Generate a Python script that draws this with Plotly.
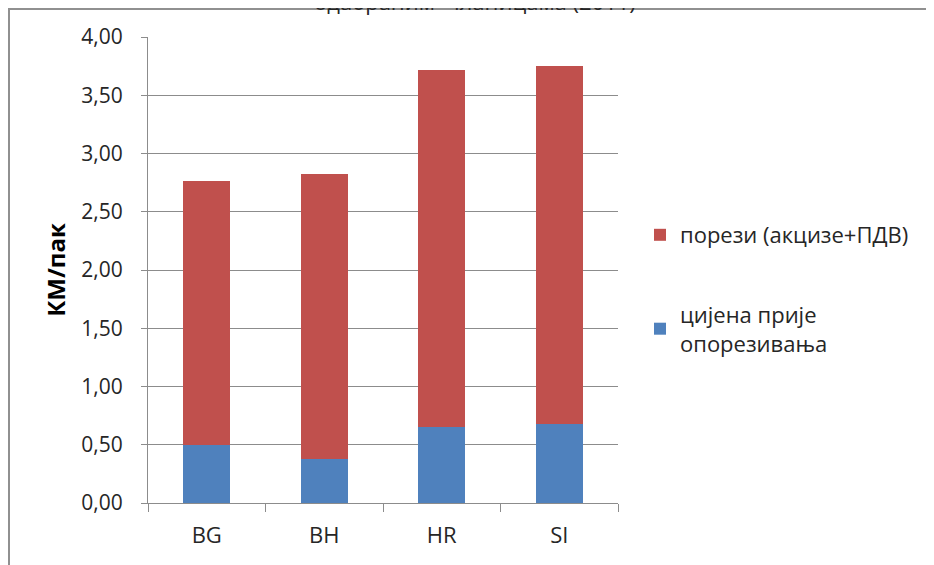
import plotly.graph_objects as go

categories = ["BG", "BH", "HR", "SI"]
price_before_tax = [0.50, 0.38, 0.65, 0.68]
taxes = [2.26, 2.44, 3.07, 3.07]
y_ticks = [0, 0.5, 1.0, 1.5, 2.0, 2.5, 3.0, 3.5, 4.0]
y_tick_labels = ["0,00", "0,50", "1,00", "1,50", "2,00", "2,50", "3,00", "3,50", "4,00"]

FONT = "Open Sans"
GRAY = "#8c8c8c"
TXT = "#262626"

fig = go.Figure()
fig.add_trace(go.Bar(x=categories, y=price_before_tax, name="цијена прије<br>опорезивања",
                     marker=dict(color="#4F81BD", line=dict(width=0)),
                     legendgroup="blue", legendrank=2))
fig.add_trace(go.Bar(x=categories, y=taxes, name="порези (акцизе+ПДВ)",
                     marker=dict(color="#C0504D", line=dict(width=0)),
                     legendgroup="red", legendrank=1))

# page shows an 8px body margin, so figure pixels = screen pixels - 8
W, H = 926, 557
L, R, T, B = 140, 316, 29, 62
pw, ph = W - L - R, H - T - B

def px_x(p):
    return (p - L) / pw

def px_y(p):
    return (H - B - p) / ph

fig.update_layout(
    width=W, height=H,
    margin=dict(l=L, r=R, t=T, b=B),
    barmode="stack", bargap=0.6,
    plot_bgcolor="white", paper_bgcolor="white",
    font=dict(family=FONT, size=21, color=TXT),
    showlegend=True,
    legend=dict(x=px_x(632), y=px_y(206), xanchor="left", yanchor="top",
                traceorder="grouped", tracegroupgap=48,
                font=dict(family=FONT, size=22, color=TXT),
                itemwidth=30, bgcolor="rgba(0,0,0,0)"),
    xaxis=dict(showline=True, linecolor=GRAY, linewidth=1, ticks="outside",
               tickson="boundaries", ticklen=8, tickcolor=GRAY,
               ticklabelstandoff=13,
               tickfont=dict(family=FONT, size=22, color=TXT), showgrid=False),
    yaxis=dict(range=[0, 4], tickvals=y_ticks, ticktext=y_tick_labels,
               showline=True, linecolor=GRAY, linewidth=1, ticks="outside",
               ticklen=6, tickcolor=GRAY, showgrid=True, gridcolor=GRAY, gridwidth=1,
               ticklabelstandoff=14,
               tickfont=dict(family=FONT, size=21, color=TXT),
               title=dict(text="<b>КМ/пак</b>", font=dict(family=FONT, size=24, color="#000000"),
                          standoff=8)),
    shapes=[
        dict(type="line", xref="paper", yref="paper", x0=px_x(0), x1=px_x(W + 10),
             y0=px_y(1), y1=px_y(1), line=dict(color="#909090", width=2)),
        dict(type="line", xref="paper", yref="paper", x0=px_x(1), x1=px_x(1),
             y0=px_y(0), y1=px_y(H + 10), line=dict(color="#909090", width=2)),
    ],
    annotations=[
        dict(text="одабраним  чланицама (2011)", xref="paper", yref="paper",
             x=px_x(467), y=px_y(-7), xanchor="center", yanchor="middle",
             showarrow=False, font=dict(family=FONT, size=22, color=TXT)),
    ],
)

fig.write_html("out.html")
